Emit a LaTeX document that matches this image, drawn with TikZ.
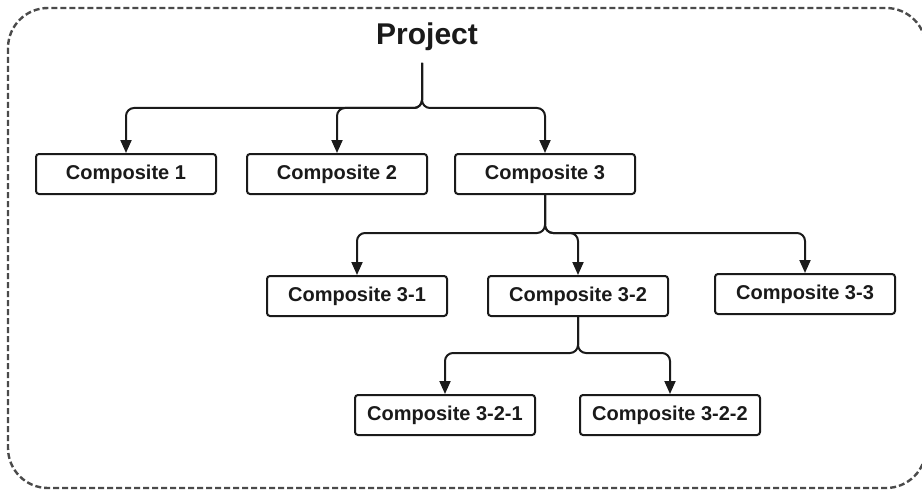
\documentclass[tikz,border=0pt]{standalone}
\usepackage{fontspec}
\setmainfont{Liberation Sans}
\usetikzlibrary{arrows.meta}
\definecolor{ink}{HTML}{1A1A1A}
\definecolor{frameink}{HTML}{4A4A4A}
\tikzset{
  box/.style={draw=ink, line width=2pt, rounded corners=3pt, fill=white,
    minimum width=180pt, minimum height=40pt, inner sep=0pt,
    font=\fontsize{20}{22}\selectfont\bfseries, text=ink},
  link/.style={draw=ink, line width=2pt, rounded corners=8pt,
    -{Triangle[length=13pt,width=11pt]}}
}
\begin{document}
\begin{tikzpicture}[x=1pt,y=-1pt]
  \useasboundingbox (0,0) rectangle (922,495);
  % outer dashed frame
  \draw[frameink, line width=2.4pt, dash pattern=on 6pt off 3pt, rounded corners=40pt]
    (8,8) rectangle (926,488);

  % nodes
  \node[font=\fontsize{30}{32}\selectfont\bfseries, text=ink, inner sep=0pt] (proj) at (427,37) {Project};
  \node[box] (c1)   at (126,174) {Composite 1};
  \node[box] (c2)   at (337,174) {Composite 2};
  \node[box] (c3)   at (545,174) {Composite 3};
  \node[box] (c31)  at (357,296) {Composite 3-1};
  \node[box] (c32)  at (578,296) {Composite 3-2};
  \node[box] (c33)  at (805,294) {Composite 3-3};
  \node[box] (c321) at (445,415) {Composite 3-2-1};
  \node[box] (c322) at (670,415) {Composite 3-2-2};

  % branch points
  \coordinate (s0) at (422,63);
  \coordinate (b0) at (422,108);
  \coordinate (b3) at (545,233);
  \coordinate (b32) at (578,353);

  % Project -> first level
  \draw[link] (s0) -- (b0) -| (c1.north);
  \draw[link] (s0) -- (b0) -| (c2.north);
  \draw[link] (s0) -- (b0) -| (c3.north);

  % Composite 3 -> second level
  \draw[link] (c3.south) -- (b3) -| (c31.north);
  \draw[link] (c3.south) -- (b3) -| (c32.north);
  \draw[link] (c3.south) -- (b3) -| (c33.north);

  % Composite 3-2 -> third level
  \draw[link] (c32.south) -- (b32) -| (c321.north);
  \draw[link] (c32.south) -- (b32) -| (c322.north);
\end{tikzpicture}
\end{document}
